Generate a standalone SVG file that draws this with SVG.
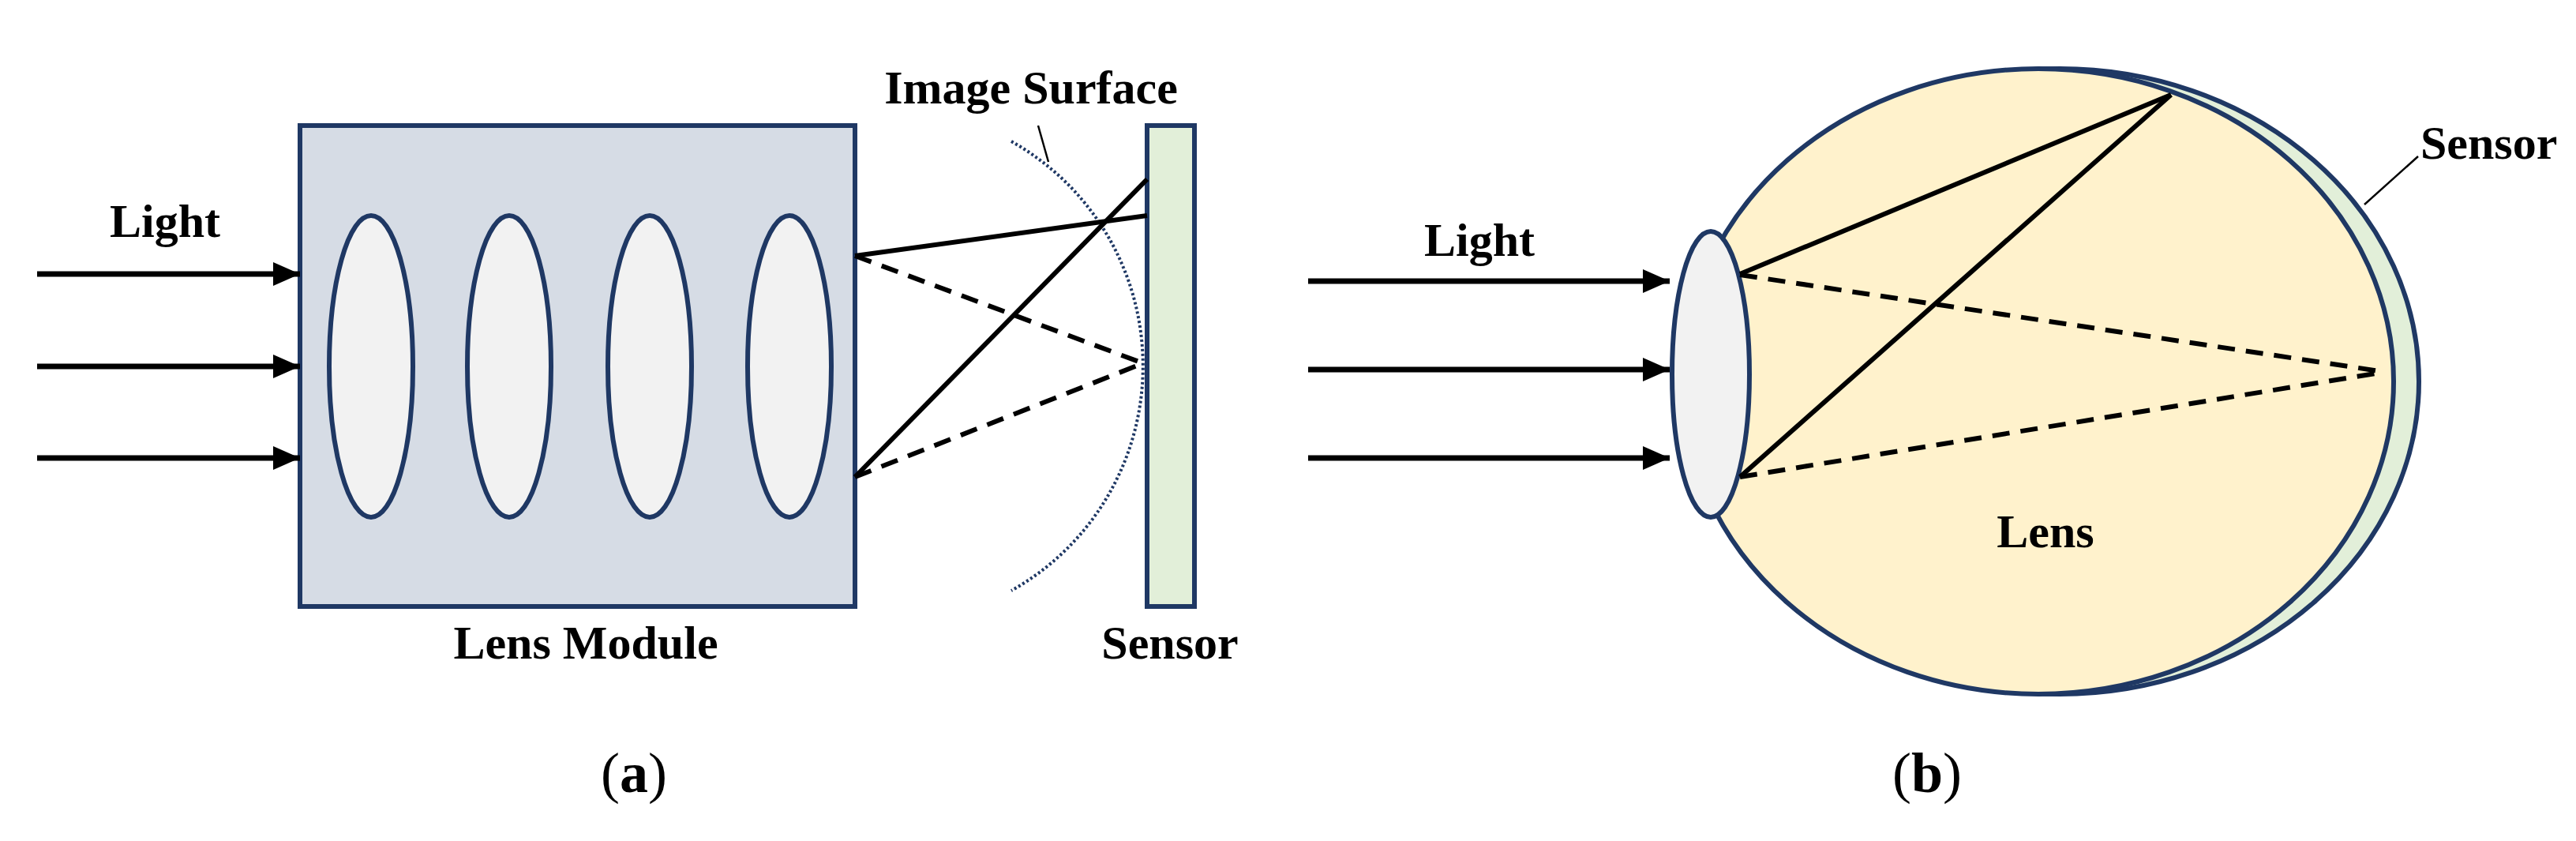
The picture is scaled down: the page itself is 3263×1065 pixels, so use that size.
<svg xmlns="http://www.w3.org/2000/svg" width="3263" height="1065" viewBox="0 0 3263 1065">
<style>
.t{font-family:"Liberation Serif",serif;font-weight:bold;font-size:60px;fill:#000}
.c{font-family:"Liberation Serif",serif;font-size:72px;fill:#000}
.nv{stroke:#1f3864;stroke-width:6}
.ray{stroke:#000;stroke-width:6;fill:none}
.dash{stroke-dasharray:22 14}
.arr{stroke:#000;stroke-width:7}
</style>
<defs>
<marker id="ah" markerUnits="userSpaceOnUse" markerWidth="34" markerHeight="30" refX="34" refY="15" orient="auto">
<path d="M0,0 L34,15 L0,30 Z" fill="#000"/>
</marker>
</defs>
<rect width="3263" height="1065" fill="#fff"/>
<g id="lens-module">
<rect x="380" y="159" width="703" height="609" fill="#d6dce5" class="nv"/>
<ellipse cx="470" cy="464" rx="53" ry="191" fill="#f2f2f2" class="nv"/>
<ellipse cx="645" cy="464" rx="53" ry="191" fill="#f2f2f2" class="nv"/>
<ellipse cx="823" cy="464" rx="53" ry="191" fill="#f2f2f2" class="nv"/>
<ellipse cx="1000" cy="464" rx="53" ry="191" fill="#f2f2f2" class="nv"/>
<text class="t" x="742" y="834" text-anchor="middle">Lens Module</text>
</g>
<g id="image-surface">
<path d="M1281,179 A326,326 0 0 1 1281,748" fill="none" stroke="#1f3864" stroke-width="4" stroke-dasharray="3 3"/>
<line x1="1315" y1="159" x2="1328" y2="205" stroke="#000" stroke-width="2.5"/>
<text class="t" x="1306" y="131" text-anchor="middle">Image Surface</text>
</g>
<g id="sensor-a">
<rect x="1453" y="159" width="60" height="609" fill="#e2efd9" class="nv"/>
<text class="t" x="1482" y="834" text-anchor="middle">Sensor</text>
</g>
<g id="eye">
<ellipse cx="2609" cy="483" rx="455" ry="396" fill="#e2efd9" class="nv"/>
<ellipse cx="2582" cy="483" rx="450" ry="396" fill="#fff2cc" class="nv"/>
<ellipse cx="2167" cy="474" rx="49" ry="181" fill="#f2f2f2" class="nv"/>
<line x1="3063" y1="198" x2="2995" y2="259" stroke="#000" stroke-width="2.5"/>
<text class="t" x="3066" y="201">Sensor</text>
<text class="t" x="2591" y="693" text-anchor="middle">Lens</text>
</g>
<g id="connectors">
<line x1="47" y1="347" x2="380" y2="347" class="arr" marker-end="url(#ah)"/>
<line x1="47" y1="464" x2="380" y2="464" class="arr" marker-end="url(#ah)"/>
<line x1="47" y1="580" x2="380" y2="580" class="arr" marker-end="url(#ah)"/>
<line x1="1083" y1="324" x2="1453" y2="273" class="ray"/>
<line x1="1083" y1="604" x2="1453" y2="227" class="ray"/>
<line x1="1083" y1="324" x2="1448" y2="460" class="ray dash"/>
<line x1="1083" y1="604" x2="1448" y2="460" class="ray dash"/>
<line x1="1657" y1="356" x2="2115" y2="356" class="arr" marker-end="url(#ah)"/>
<line x1="1657" y1="468" x2="2115" y2="468" class="arr" marker-end="url(#ah)"/>
<line x1="1657" y1="580" x2="2115" y2="580" class="arr" marker-end="url(#ah)"/>
<line x1="2204" y1="347" x2="2750" y2="120" class="ray"/>
<line x1="2204" y1="604" x2="2750" y2="120" class="ray"/>
<line x1="2204" y1="348" x2="3021" y2="471" class="ray dash"/>
<line x1="2204" y1="604" x2="3021" y2="471" class="ray dash"/>
</g>
<g id="labels">
<text class="t" x="209" y="300" text-anchor="middle">Light</text>
<text class="t" x="1874" y="324" text-anchor="middle">Light</text>
<text class="c" x="803" y="1003" text-anchor="middle">(<tspan font-weight="bold">a</tspan>)</text>
<text class="c" x="2441" y="1003" text-anchor="middle">(<tspan font-weight="bold">b</tspan>)</text>
</g>
</svg>
